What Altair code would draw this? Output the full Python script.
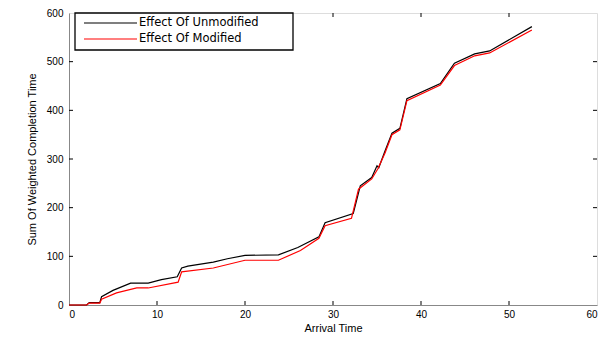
import altair as alt
import pandas as pd

# Effect Of Unmodified (black)
x_unmod = [0, 2, 2.3, 3.5, 3.7, 5, 7, 9, 10.5, 12.3, 12.8, 13.5, 16.4, 18, 20, 23.8, 26,
           28.4, 29.1, 32.3, 33.1, 34.4, 35, 35.2, 35.9, 36.7, 37.6, 38.4, 42.2, 43.8,
           46.1, 47.8, 52.6]
y_unmod = [0, 0, 5, 5, 17, 30, 45, 45, 52, 58, 76, 80, 88, 95, 102, 103, 118,
           140, 169, 188, 245, 262, 286, 282, 316, 353, 363, 424, 455, 497,
           516, 522, 572]

# Effect Of Modified (red)
x_mod = [0, 2, 2.3, 3.5, 3.7, 5.4, 7.7, 9, 12.4, 12.8, 16.4, 20, 23.8, 26.3, 28.4,
         29.1, 32.1, 32.9, 34.4, 35.1, 35.9, 36.7, 37.6, 38.4, 42.2, 43.8, 46.1,
         47.8, 52.6]
y_mod = [0, 0, 4, 4, 12, 25, 35, 35, 47, 68, 76, 92, 92, 112, 137,
         163, 178, 238, 259, 280, 312, 350, 360, 420, 452, 492, 512,
         518, 565]

series_names = ["Effect Of Unmodified", "Effect Of Modified"]
series_colors = ["#000000", "#ff0000"]

x_ticks = [0, 10, 20, 30, 40, 50, 60]
y_ticks = [0, 100, 200, 300, 400, 500, 600]

df = pd.concat([
    pd.DataFrame({"x": x_unmod, "y": y_unmod, "series": series_names[0], "o": range(len(x_unmod))}),
    pd.DataFrame({"x": x_mod, "y": y_mod, "series": series_names[1], "o": range(len(x_mod))}),
])

W, H = 528, 292
FONT = "DejaVu Sans"

xs = alt.Scale(domain=[0, 60], nice=False, zero=False)
ys = alt.Scale(domain=[0, 600], nice=False, zero=False)
cs = alt.Scale(domain=series_names, range=series_colors)

lines = alt.Chart(df).mark_line(strokeWidth=1.2).encode(
    x=alt.X("x:Q", scale=xs,
            axis=alt.Axis(values=x_ticks, title="Arrival Time", ticks=False, grid=False,
                          labelPadding=4, titlePadding=3, format="d",
                          titleFontWeight="normal")),
    y=alt.Y("y:Q", scale=ys,
            axis=alt.Axis(values=y_ticks, title="Sum Of Weighted Completion Time", ticks=False,
                          grid=False, labelPadding=6, titlePadding=9, format="d",
                          titleFontWeight="normal")),
    color=alt.Color("series:N", scale=cs, legend=None),
    order="o:Q",
)

# ---- legend box (drawn manually, matlab style) ----
leg_box = alt.Chart(pd.DataFrame({"a": [0]})).mark_rect(
    fill="white", stroke="black", strokeWidth=1.3
).encode(x=alt.value(6), x2=alt.value(224), y=alt.value(0), y2=alt.value(37))

leg_layers = []
for i, (name, col) in enumerate(zip(series_names, series_colors)):
    yy = 10 + 16 * i
    d = pd.DataFrame({"series": [name]})
    leg_layers.append(
        alt.Chart(d).mark_rule(strokeWidth=1.2).encode(
            x=alt.value(15), x2=alt.value(68), y=alt.value(yy),
            color=alt.Color("series:N", scale=cs, legend=None))
    )
    leg_layers.append(
        alt.Chart(d).mark_text(align="left", baseline="middle", font=FONT,
                               fontSize=11.5, color="black").encode(
            x=alt.value(70), y=alt.value(yy), text="series:N")
    )

tdf_x = pd.DataFrame({"v": x_ticks[1:-1]})
tdf_y = pd.DataFrame({"v": y_ticks[1:-1]})

tick_bottom = alt.Chart(tdf_x).mark_rule(color="black", strokeWidth=1).encode(
    x=alt.X("v:Q", scale=xs), y=alt.value(H), y2=alt.value(H - 4))
tick_top = alt.Chart(tdf_x).mark_rule(color="black", strokeWidth=1).encode(
    x=alt.X("v:Q", scale=xs), y=alt.value(0), y2=alt.value(4))
tick_left = alt.Chart(tdf_y).mark_rule(color="black", strokeWidth=1).encode(
    y=alt.Y("v:Q", scale=ys), x=alt.value(0), x2=alt.value(4))
tick_right = alt.Chart(tdf_y).mark_rule(color="black", strokeWidth=1).encode(
    y=alt.Y("v:Q", scale=ys), x=alt.value(W), x2=alt.value(W - 4))

chart = alt.layer(lines, tick_bottom, tick_top, tick_left, tick_right, leg_box, *leg_layers).properties(
    width=W, height=H,
    autosize=alt.AutoSizeParams(type="none"),
    padding={"left": 61, "top": 5, "right": 8, "bottom": 27},
).configure_view(
    stroke="black", strokeWidth=1.5
).configure_axis(
    domainColor="black", domainWidth=1.5,
    labelFont=FONT, labelFontSize=11, labelColor="black",
    titleFont=FONT, titleFontSize=10, titleColor="black", titleFontWeight="normal",
).configure(background="white")

chart.save("out.html", embed_options={"renderer": "svg", "actions": False})
